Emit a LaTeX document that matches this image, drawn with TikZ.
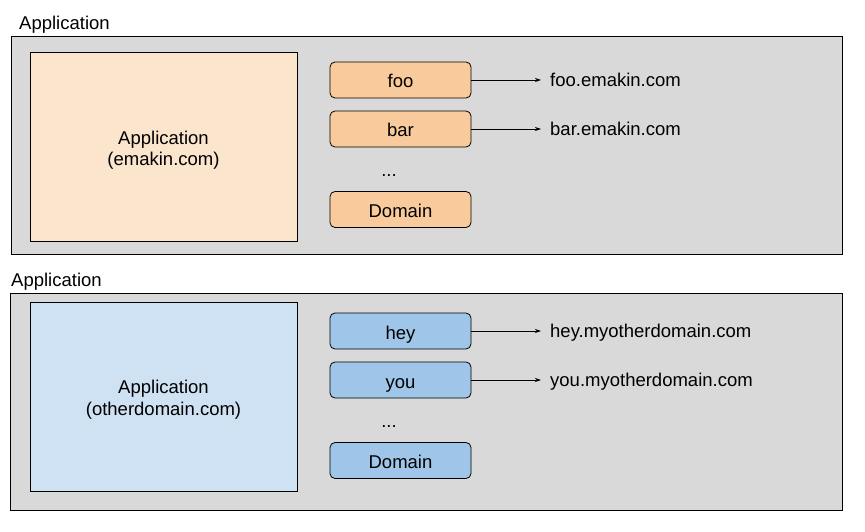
\documentclass[tikz,border=0pt]{standalone}
\usepackage{fontspec}
\setmainfont{Liberation Sans}
\usetikzlibrary{arrows.meta}
\definecolor{outerg}{HTML}{D9D9D9}
\definecolor{appor}{HTML}{FCE5CD}
\definecolor{domor}{HTML}{F9CB9C}
\definecolor{appbl}{HTML}{CFE2F3}
\definecolor{dombl}{HTML}{9FC5E8}
\begin{document}
\begin{tikzpicture}[x=1pt,y=-1pt,
  every node/.style={font=\fontsize{18.5}{22}\selectfont},
  outerbox/.style={draw=black,line width=1pt,fill=outerg},
  appbox/.style={draw=black,line width=1pt,minimum width=267pt,inner sep=0pt},
  apptext/.style={inner sep=0pt,anchor=base},
  dombox/.style={draw=black,line width=0.8pt,rounded corners=5pt,minimum width=141pt,minimum height=36pt,inner sep=0pt,text height=20pt,text depth=4pt},
  lbl/.style={inner sep=0pt,anchor=base west},
  conn/.style={line width=0.8pt,-{Stealth[length=6pt,width=4pt]}}
]
\useasboundingbox (0,0) rectangle (865,532);
% top group
\node[lbl] (t1) at (19,30) {Application};
\draw[outerbox] (11,37) rectangle (842,254);
\node[appbox,fill=appor,minimum height=188pt] (a1) at (163.5,147) {};
\node[apptext] (a1l1) at (163.5,144.5) {Application};
\node[apptext] (a1l2) at (163.5,166) {(emakin.com)};
\node[dombox,fill=domor] (foo) at (400.5,80) {foo};
\node[dombox,fill=domor] (bar) at (400.5,129) {bar};
\node[inner sep=0pt,anchor=base] (d1) at (389,176.5) {...};
\node[dombox,fill=domor] (dom1) at (400.5,209.5) {Domain};
\node[lbl] (foot) at (550,86.5) {foo.emakin.com};
\node[lbl] (bart) at (550,135.5) {bar.emakin.com};
\draw[conn] (foo.east) -- ([xshift=-9pt]foot.west |- foo.east);
\draw[conn] (bar.east) -- ([xshift=-9pt]bart.west |- bar.east);
% bottom group
\node[lbl] (t2) at (11,286.5) {Application};
\draw[outerbox] (10,293) rectangle (842,510);
\node[appbox,fill=appbl,minimum height=189pt] (a2) at (163.5,396.5) {};
\node[apptext] (a2l1) at (163.5,393.5) {Application};
\node[apptext] (a2l2) at (163.5,415) {(otherdomain.com)};
\node[dombox,fill=dombl] (hey) at (400.5,331) {hey};
\node[dombox,fill=dombl] (you) at (400.5,380) {you};
\node[inner sep=0pt,anchor=base] (d2) at (389,427) {...};
\node[dombox,fill=dombl] (dom2) at (400.5,460.5) {Domain};
\node[lbl] (heyt) at (550,337.5) {hey.myotherdomain.com};
\node[lbl] (yout) at (550,386.5) {you.myotherdomain.com};
\draw[conn] (hey.east) -- ([xshift=-9pt]heyt.west |- hey.east);
\draw[conn] (you.east) -- ([xshift=-9pt]yout.west |- you.east);
\end{tikzpicture}
\end{document}
